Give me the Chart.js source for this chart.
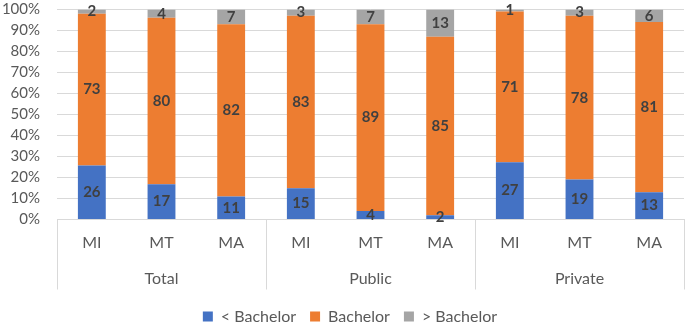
<!DOCTYPE html>
<html>
<head>
<meta charset="utf-8">
<script src="https://cdn.jsdelivr.net/npm/chart.js@4.4.0/dist/chart.umd.min.js"></script>
<style>
  body { margin: 0; background: #fff; }
  #wrap { width: 685px; height: 328px; }
</style>
</head>
<body>
<div id="wrap"><canvas id="grafico"></canvas></div>
<script>
// datos
const grupos = ['Total', 'Public', 'Private'];
const categorias = ['MI', 'MT', 'MA', 'MI', 'MT', 'MA', 'MI', 'MT', 'MA'];
const menosBachelor = [26, 17, 11, 15, 4, 2, 27, 19, 13];
const bachelor = [73, 80, 82, 83, 89, 85, 71, 78, 81];
const masBachelor = [2, 4, 7, 3, 7, 13, 1, 3, 6];
const ticksY = [0, 10, 20, 30, 40, 50, 60, 70, 80, 90, 100];

const colores = ['#4472C4', '#ED7D31', '#A5A5A5'];
const fuente = 'Lato, "Open Sans", sans-serif';

// 100% apilado
const totales = categorias.map((c, i) => menosBachelor[i] + bachelor[i] + masBachelor[i]);
const pct = arr => arr.map((v, i) => v / totales[i] * 100);

const series = [
  { label: '< Bachelor', valores: menosBachelor },
  { label: 'Bachelor', valores: bachelor },
  { label: '> Bachelor', valores: masBachelor }
];

// etiquetas de valor en el centro de cada segmento
const etiquetas = {
  id: 'etiquetas',
  afterDatasetsDraw(chart) {
    const ctx = chart.ctx;
    ctx.save();
    ctx.font = 'bold 15px ' + fuente;
    ctx.fillStyle = '#404040';
    ctx.textAlign = 'center';
    ctx.textBaseline = 'middle';
    chart.data.datasets.forEach((ds, d) => {
      chart.getDatasetMeta(d).data.forEach((bar, i) => {
        const y = (bar.y + bar.base) / 2;
        ctx.fillText(String(series[d].valores[i]), bar.x, y);
      });
    });
    ctx.restore();
  }
};

// eje de categorias agrupado (Total / Public / Private)
const ejeGrupos = {
  id: 'ejeGrupos',
  afterLayout(chart) {
    // la leyenda del original esta un poco a la derecha
    chart.legend.left += 8;
    chart.legend.right += 8;
  },
  afterDraw(chart) {
    const ctx = chart.ctx;
    const x = chart.scales.x;
    const area = chart.chartArea;
    const paso = x.getPixelForValue(1) - x.getPixelForValue(0);
    const fondo = area.bottom + 70;
    ctx.save();
    ctx.strokeStyle = '#D9D9D9';
    ctx.lineWidth = 1;
    for (let g = 0; g <= grupos.length; g++) {
      const px = Math.round(x.getPixelForValue(g * 3) - paso / 2) + 0.5;
      ctx.beginPath();
      ctx.moveTo(px, area.bottom);
      ctx.lineTo(px, fondo);
      ctx.stroke();
    }
    ctx.font = '16px ' + fuente;
    ctx.fillStyle = '#595959';
    ctx.textAlign = 'center';
    ctx.textBaseline = 'middle';
    grupos.forEach((g, i) => {
      ctx.fillText(g, x.getPixelForValue(i * 3 + 1), area.bottom + 59);
    });
    ctx.restore();
  }
};

new Chart(document.getElementById('grafico'), {
  type: 'bar',
  data: {
    labels: categorias,
    datasets: series.map((s, i) => ({
      label: s.label,
      data: pct(s.valores),
      backgroundColor: colores[i],
      borderWidth: 0,
      barPercentage: 0.4,
      categoryPercentage: 1
    }))
  },
  options: {
    responsive: true,
    maintainAspectRatio: false,
    animation: false,
    layout: { padding: { top: 9.5, right: 1, left: 0, bottom: -6.5 } },
    plugins: {
      legend: {
        position: 'bottom',
        labels: {
          boxWidth: 10,
          boxHeight: 10,
          padding: 14,
          color: '#595959',
          font: { family: fuente, size: 16 }
        }
      },
      tooltip: { enabled: false }
    },
    scales: {
      x: {
        stacked: true,
        grid: { display: false, drawTicks: false },
        border: { color: '#D9D9D9' },
        ticks: {
          color: '#595959',
          padding: 14,
          font: { family: fuente, size: 16 },
          maxRotation: 0
        },
        afterFit(scale) { scale.height = 75; }
      },
      y: {
        stacked: true,
        min: 0,
        max: 100,
        afterBuildTicks(scale) { scale.ticks = ticksY.map(v => ({ value: v })); },
        grid: { color: '#D9D9D9', drawTicks: false },
        border: { display: false },
        ticks: {
          autoSkip: false,
          color: '#595959',
          padding: 17,
          font: { family: fuente, size: 15 },
          callback: v => v + '%'
        },
        afterFit(scale) {
          scale.width = 57;
          scale.paddingTop = 0;
          scale.paddingBottom = 0;
        }
      }
    }
  },
  plugins: [etiquetas, ejeGrupos]
});
</script>
</body>
</html>
